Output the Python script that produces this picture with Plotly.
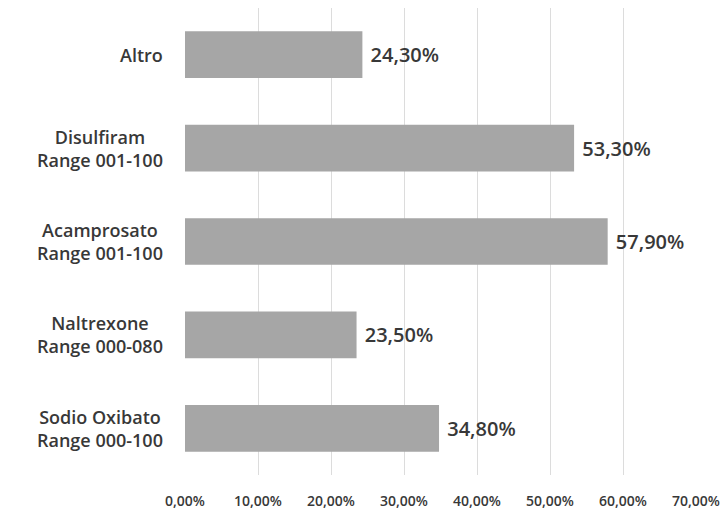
import plotly.graph_objects as go

# Share of responses per treatment (fractions of 1)
categories = [
    "Altro",
    "Disulfiram<br>Range 001-100",
    "Acamprosato<br>Range 001-100",
    "Naltrexone<br>Range 000-080",
    "Sodio Oxibato<br>Range 000-100",
]
values = [0.243, 0.533, 0.579, 0.235, 0.348]
x_ticks = [0.0, 0.1, 0.2, 0.3, 0.4, 0.5, 0.6, 0.7]

font_family = "'Open Sans', Lato, sans-serif"
text_color = "#383838"

fig = go.Figure(
    go.Bar(
        y=categories,
        x=values,
        orientation="h",
        marker=dict(color="#a6a6a6", line=dict(width=0)),
        width=0.5,
        texttemplate=" %{x:.2%}",
        textposition="outside",
        cliponaxis=False,
        textfont=dict(family=font_family, size=20, color=text_color, weight=600),
    )
)

# Category labels as centred, multi-line annotations beside the axis
for cat in categories:
    fig.add_annotation(
        x=0,
        y=cat,
        xref="x",
        yref="y",
        text=cat,
        showarrow=False,
        xanchor="right",
        yanchor="middle",
        align="center",
        xshift=-20,
        font=dict(family=font_family, size=18, color=text_color, weight=600),
    )

fig.update_layout(
    width=728,
    height=518,
    margin=dict(l=185, r=31, t=8, b=40),
    paper_bgcolor="white",
    plot_bgcolor="white",
    separators=",.",
    showlegend=False,
    font=dict(family=font_family, color=text_color),
    xaxis=dict(
        range=[0, 0.7],
        tickvals=x_ticks,
        tickformat=".2%",
        showgrid=True,
        gridcolor="#dcdcdc",
        gridwidth=1,
        zeroline=False,
        showline=False,
        ticks="",
        ticklabelstandoff=16,
        tickfont=dict(family=font_family, size=14, color=text_color, weight=600),
    ),
    yaxis=dict(
        autorange="reversed",
        showgrid=False,
        showline=False,
        ticks="",
        showticklabels=False,
    ),
)

fig.write_html("out.html")
